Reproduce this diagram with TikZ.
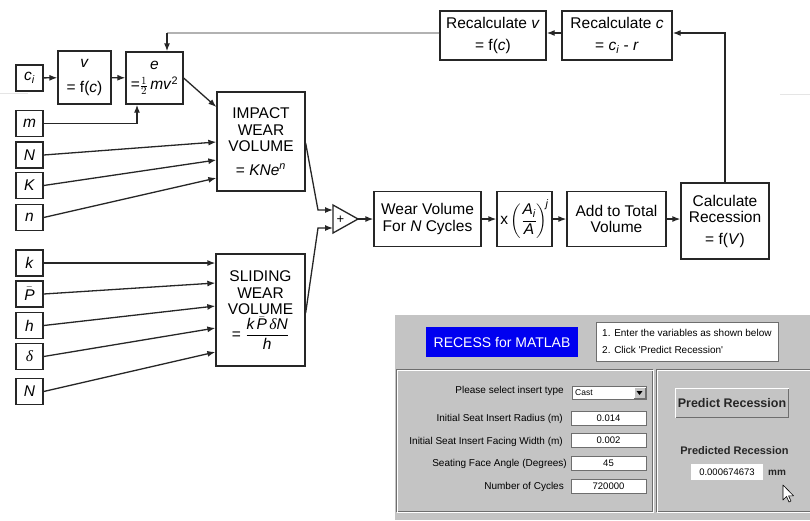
\documentclass[tikz,border=0pt]{standalone}
\usepackage{amsmath}
\usepackage{fontspec}
\setmainfont{Liberation Sans}
\newfontfamily\serifit{Liberation Serif}
\usetikzlibrary{arrows.meta,calc}
\definecolor{guigray}{RGB}{196,196,196}
\definecolor{guidark}{RGB}{110,110,110}
\definecolor{guiblue}{RGB}{0,0,240}
\newcommand{\iv}[1]{\textit{#1}}
\begin{document}
\begin{tikzpicture}[x=1pt,y=-1pt,
  box/.style={draw=black!85, line width=1.3pt, fill=white, inner sep=0pt, align=center,
    font=\fontsize{15.5}{16.5}\selectfont},
  inbox/.style={box, minimum width=27pt, minimum height=26pt},
  arr/.style={-{Latex[length=8pt,width=6pt]}, line width=1.3pt, draw=black!85},
  guitext/.style={font=\fontsize{10}{12}\selectfont, inner sep=0pt},
  field/.style={fill=white, draw=guidark, line width=0.8pt},
]
\fill[white] (0,0) rectangle (810,520);
\useasboundingbox (0,0) rectangle (810,520);
% faint page edges
\draw[black!10, line width=0.8pt] (0,93) -- (28,93);
\draw[black!10, line width=0.8pt] (780,94) -- (810,94);

% ---------- input boxes ----------
\node[inbox] (ci) at (29.5,78) {\iv{c}\textsubscript{\iv{i}}};
\node[inbox] (m)  at (29.5,123.5) {\iv{m}};
\node[inbox] (N1) at (29.5,155) {\iv{N}};
\node[inbox] (K)  at (29.5,185.5) {\iv{K}};
\node[inbox] (n)  at (29.5,217.5) {\iv{n}};
\node[inbox] (k)  at (29.5,263) {\iv{k}};
\node[inbox] (P)  at (29.5,294) {$\bar{\text{\itshape P}}$};
\node[inbox] (h)  at (29.5,325.5) {\iv{h}};
\node[inbox] (d)  at (29.5,356.5) {{\serifit\itshape δ}};
\node[inbox] (N2) at (29.5,391.5) {\iv{N}};

% ---------- calculation boxes ----------
\node[box, minimum width=53pt, minimum height=53pt] (v) at (84.5,77.5) {\iv{v}\\[9pt]= f(\iv{c})};
\node[box, minimum width=57pt, minimum height=52pt] (e) at (154.5,78) {\iv{e}\\[4pt]=$\frac{1}{2}$\,\iv{mv}\textsuperscript{2}};
\node[box, minimum width=88pt, minimum height=99pt] (I) at (261,141.5)
  {IMPACT\\WEAR\\VOLUME\\[7pt]= \iv{KNe}\textsuperscript{\iv{n}}};
\node[box, minimum width=89pt, minimum height=112pt] (S) at (260.5,310)
  {SLIDING\\WEAR\\VOLUME\\[1pt]= $\dfrac{\text{\itshape k}\,\bar{\text{\itshape P}}\,\text{\serifit\itshape δ}\text{\itshape N}}{\text{\itshape h}}$};

% summing junction
\coordinate (tA) at (333,205);
\coordinate (tB) at (333,233);
\coordinate (sout) at (358,219);
\draw[line width=1.3pt, draw=black!85, fill=white] (tA) -- (sout) -- (tB) -- cycle;
\node[font=\fontsize{13}{13}\selectfont, inner sep=0pt] (plus) at (340.5,219.5) {+};
\coordinate (j1) at (318,210);
\coordinate (sin1) at (333,210);
\coordinate (j2) at (318,228);
\coordinate (sin2) at (333,228);

\node[box, minimum width=107pt, minimum height=55pt] (WV) at (427.5,219) {Wear Volume\\For \iv{N} Cycles};
\node[box, minimum width=55pt, minimum height=55pt] (R) at (524.5,219)
  {x\,$\left(\dfrac{\text{\itshape A}_{\text{\itshape i}}}{\text{\itshape A}}\right)^{\!\text{\itshape j}}$};
\node[box, minimum width=99pt, minimum height=55pt] (Add) at (616.5,219) {Add to Total\\Volume};
\node[box, minimum width=88pt, minimum height=76pt] (Calc) at (725,221) {Calculate\\Recession\\[5pt]= f(\iv{V})};
\node[box, minimum width=110pt, minimum height=49pt] (Rc) at (617,35.5) {Recalculate \iv{c}\\[5pt]= \iv{c}\textsubscript{\iv{i}} - \iv{r}};
\node[box, minimum width=106pt, minimum height=49pt] (Rv) at (493,35.5) {Recalculate \iv{v}\\[5pt]= f(\iv{c})};
\coordinate (fb) at (167,33);

% ---------- connectors ----------
\draw[arr] (ci) -- (v);
\draw[arr] (v) -- (e);
\draw[arr] (m.east) -| ($(e.south)+(-17.5,0)$);
\draw[arr] (e.east) -- ($(I.west)+(0,-34.5)$);
\draw[arr] (N1.east) -- ($(I.west)+(0,0.5)$);
\draw[arr] (K.east) -- ($(I.west)+(0,18.5)$);
\draw[arr] (n.east) -- ($(I.west)+(0,36.5)$);
\draw[arr] (k.east) -- ($(S.west)+(0,-47)$);
\draw[arr] (P.east) -- ($(S.west)+(0,-27)$);
\draw[arr] (h.east) -- ($(S.west)+(0,-4)$);
\draw[arr] (d.east) -- ($(S.west)+(0,18)$);
\draw[arr] (N2.east) -- ($(S.west)+(0,42)$);
\draw[arr] ($(I.east)+(0,1.5)$) -- (j1) -- (sin1);
\draw[arr] ($(S.east)+(0,3)$) -- (j2) -- (sin2);
\draw[arr] (sout) -- (WV.west);
\draw[arr] (WV) -- (R);
\draw[arr] (R) -- (Add);
\draw[arr] (Add.east) -- (Add.east -| Calc.west);
\draw[arr] (Calc.north) |- ($(Rc.east)+(0,-2.5)$);
\draw[arr] ($(Rc.west)+(0,-2.5)$) -- ($(Rv.east)+(0,-2.5)$);
\draw[black!30, line width=1.3pt] ($(Rv.west)+(0,-2.5)$) -- (fb);
\draw[arr] (fb) -- (fb |- e.north);

% ---------- GUI panel ----------
\fill[guigray] (395,315) rectangle (810,520);
\fill[guiblue] (426,327) rectangle (578,357);
\node[font=\fontsize{14}{14}\selectfont, text=white, inner sep=0pt] (title) at (502,342) {RECESS for MATLAB};
\draw[fill=white, draw=guidark, line width=0.9pt] (596,322) rectangle (778,361);
\node[guitext, anchor=west] (ins1) at (602,333) {1. Enter the variables as shown below};
\node[guitext, anchor=west] (ins2) at (602,350) {2. Click \textquotesingle Predict Recession\textquotesingle};
% etched frames
\draw[guidark, line width=1pt] (396.5,369.5) rectangle (652.5,511.5);
\draw[white, line width=1pt] (397.5,370.5) rectangle (653.5,512.5);
\draw[guidark, line width=1pt] (656.5,369.5) rectangle (815,511.5);
\draw[white, line width=1pt] (657.5,370.5) rectangle (815,512.5);
% labels
\node[guitext, anchor=east] (l1) at (564,391) {Please select insert type};
\node[guitext, anchor=east] (l2) at (563,419) {Initial Seat Insert Radius (m)};
\node[guitext, anchor=east] (l3) at (563,441.5) {Initial Seat Insert Facing Width (m)};
\node[guitext, anchor=east] (l4) at (567,464) {Seating Face Angle (Degrees)};
\node[guitext, anchor=east] (l5) at (564,487) {Number of Cycles};
% dropdown
\draw[field] (572,386) rectangle (646,399);
\node[font=\fontsize{8.5}{9}\selectfont, inner sep=0pt, anchor=west] (cast) at (575,392.5) {Cast};
\fill[guigray] (634,387.5) rectangle (645,398);
\draw[white, line width=0.6pt] (634,398) -- (634,387.5) -- (645,387.5);
\draw[guidark, line width=0.6pt] (634,398) -- (645,398) -- (645,387.5);
\fill[black] (636.5,391) -- (642.5,391) -- (639.5,395) -- cycle;
% fields
\draw[field] (571,411) rectangle (646,425);
\node[guitext, font=\fontsize{9.5}{10}\selectfont] (f1) at (608.5,418) {0.014};
\draw[field] (571,433) rectangle (646,447);
\node[guitext, font=\fontsize{9.5}{10}\selectfont] (f2) at (608.5,440) {0.002};
\draw[field] (571,456) rectangle (646,470);
\node[guitext, font=\fontsize{9.5}{10}\selectfont] (f3) at (608.5,463) {45};
\draw[field] (571,479) rectangle (646,493);
\node[guitext, font=\fontsize{9.5}{10}\selectfont] (f4) at (608.5,486) {720000};
% button
\fill[guigray] (675,388) rectangle (789,418);
\draw[white, line width=1pt] (675.5,417.5) -- (675.5,388.5) -- (788.5,388.5);
\draw[guidark, line width=1.2pt] (675.5,417.5) -- (788.5,417.5) -- (788.5,388.5);
\node[font=\fontsize{12.5}{13}\selectfont\bfseries, inner sep=0pt, text=black!85] (btn) at (732,403) {Predict Recession};
% output
\node[font=\fontsize{11}{12}\selectfont\bfseries, inner sep=0pt, text=black!85] (pr) at (734.5,451) {Predicted Recession};
\fill[white] (691,464) rectangle (763,480);
\node[guitext, font=\fontsize{9.5}{10}\selectfont] (out) at (727,472) {0.000674673};
\node[font=\fontsize{10}{10}\selectfont\bfseries, inner sep=0pt, text=black!85] (mm) at (777,472.5) {mm};
% cursor
\draw[fill=white, draw=black, line width=0.6pt, line join=round]
  (783,485) -- ++(0,15) -- ++(3.5,-3.5) -- ++(2.5,5.5) -- ++(2,-1) -- ++(-2.5,-5.2) -- ++(5,0) -- cycle;
\end{tikzpicture}
\end{document}
